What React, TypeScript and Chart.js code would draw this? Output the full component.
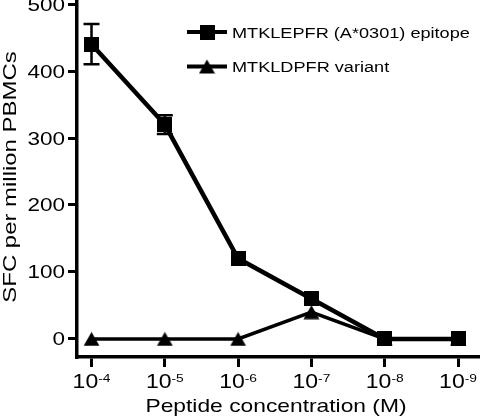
import { useEffect, useRef } from "react";
import { Chart, registerables } from "chart.js";

Chart.register(...registerables);

// Peptide concentrations (powers of ten, molar)
const exponents = ["-4", "-5", "-6", "-7", "-8", "-9"];
// Epitope response: mean and error
const epitopeSfc = [440, 320, 120, 60, 0, 0];
const epitopeErr = [30, 14, 0, 0, 0, 0];
// Variant response
const variantSfc = [0, 0, 0, 40, 0, 0];
const yTicks = [0, 100, 200, 300, 400, 500];
const seriesLabels = ["MTKLEPFR (A*0301) epitope", "MTKLDPFR variant"];
const xTitle = "Peptide concentration (M)";
const yTitle = "SFC per million PBMCs";

const FONT = '"Liberation Sans", Arial, Helvetica, sans-serif';

type Align = "left" | "center" | "right";

// Draws text horizontally widened by sx (along its own direction)
function wideText(
  ctx: CanvasRenderingContext2D,
  text: string,
  x: number,
  y: number,
  size: number,
  sx: number,
  align: Align,
  baseline: CanvasTextBaseline = "alphabetic",
  rotate = 0
) {
  ctx.save();
  ctx.font = `${size}px ${FONT}`;
  ctx.fillStyle = "#000";
  ctx.textBaseline = baseline;
  ctx.textAlign = "left";
  const w = ctx.measureText(text).width * sx;
  let off = 0;
  if (align === "center") off = -w / 2;
  else if (align === "right") off = -w;
  ctx.translate(x, y);
  if (rotate) ctx.rotate(rotate);
  ctx.translate(off, 0);
  ctx.scale(sx, 1);
  ctx.fillText(text, 0, 0);
  ctx.restore();
  return w;
}

function makeSquare(): HTMLCanvasElement {
  const c = document.createElement("canvas");
  c.width = 15;
  c.height = 15;
  const g = c.getContext("2d")!;
  g.fillStyle = "#000";
  g.fillRect(0, 0, 15, 15);
  return c;
}

function makeTriangle(): HTMLCanvasElement {
  const c = document.createElement("canvas");
  c.width = 17;
  c.height = 15;
  const g = c.getContext("2d")!;
  g.fillStyle = "#000";
  g.beginPath();
  g.moveTo(0.5, 14.5);
  g.lineTo(8.5, 0.5);
  g.lineTo(16.5, 14.5);
  g.closePath();
  g.fill();
  return c;
}

export default function App() {
  const ref = useRef<HTMLCanvasElement | null>(null);

  useEffect(() => {
    document.body.style.margin = "0";
    const canvas = ref.current;
    if (!canvas) return;
    const square = makeSquare();
    const triangle = makeTriangle();
    const markers = [square, triangle];

    const errorBars = {
      id: "errorBars",
      afterDatasetsDraw(chart: any) {
        const ctx = chart.ctx as CanvasRenderingContext2D;
        const xs = chart.scales.x;
        const ys = chart.scales.y;
        ctx.save();
        ctx.strokeStyle = "#000";
        ctx.lineWidth = 2.5;
        epitopeSfc.forEach((v, i) => {
          const e = epitopeErr[i];
          if (!e) return;
          const px = xs.getPixelForValue(i);
          const top = ys.getPixelForValue(v + e);
          const bot = ys.getPixelForValue(v - e);
          ctx.beginPath();
          ctx.moveTo(px, top);
          ctx.lineTo(px, bot);
          ctx.moveTo(px - 8, top);
          ctx.lineTo(px + 8, top);
          ctx.moveTo(px - 8, bot);
          ctx.lineTo(px + 8, bot);
          ctx.stroke();
        });
        ctx.restore();
      },
    };

    const textLayer = {
      id: "textLayer",
      afterDraw(chart: any) {
        const ctx = chart.ctx as CanvasRenderingContext2D;
        const xs = chart.scales.x;
        const ys = chart.scales.y;
        const area = chart.chartArea;

        // y tick labels
        yTicks.forEach((v) => {
          wideText(ctx, String(v), 65, ys.getPixelForValue(v) + 6.5, 18, 1.25, "right");
        });

        // x tick labels: 10 with superscript exponent
        exponents.forEach((ex, i) => {
          const px = xs.getPixelForValue(i);
          ctx.save();
          ctx.font = `20px ${FONT}`;
          const wBase = ctx.measureText("10").width * 1.15;
          ctx.font = `11.5px ${FONT}`;
          const wExp = ctx.measureText(ex).width * 1.2;
          ctx.restore();
          const left = px - (wBase + wExp) / 2;
          wideText(ctx, "10", left, 387.5, 20, 1.15, "left");
          wideText(ctx, ex, left + wBase, 381.5, 11.5, 1.2, "left");
        });

        // axis titles
        wideText(ctx, xTitle, (area.left + area.right) / 2 - 2, 411.5, 19, 1.2, "center");
        wideText(ctx, yTitle, 15.5, 177, 19, 1.26, "center", "alphabetic", -Math.PI / 2);

        // legend
        const rows = [32, 66.5];
        seriesLabels.forEach((label, i) => {
          const y = rows[i];
          ctx.save();
          ctx.strokeStyle = "#000";
          ctx.lineWidth = 4;
          ctx.beginPath();
          ctx.moveTo(187, y);
          ctx.lineTo(227, y);
          ctx.stroke();
          const m = markers[i];
          ctx.drawImage(m, 207 - m.width / 2, y - m.height / 2);
          ctx.restore();
          wideText(ctx, label, 232, y + 5.5, 15.5, 1.17, "left");
        });
      },
    };

    const chart = new Chart(canvas, {
      type: "line",
      data: {
        datasets: [
          {
            label: seriesLabels[0],
            data: epitopeSfc.map((y, i) => ({ x: i, y })),
            borderColor: "#000",
            backgroundColor: "#000",
            borderWidth: 4.5,
            pointStyle: square as any,
            pointRadius: 8,
            tension: 0,
          },
          {
            label: seriesLabels[1],
            data: variantSfc.map((y, i) => ({ x: i, y })),
            borderColor: "#000",
            backgroundColor: "#000",
            borderWidth: 3.5,
            pointStyle: triangle as any,
            pointRadius: 8,
            tension: 0,
          },
        ],
      },
      options: {
        animation: false,
        responsive: false,
        devicePixelRatio: 1,
        layout: { autoPadding: false, padding: { top: 1, right: 1, bottom: 0, left: 0 } },
        plugins: { legend: { display: false }, tooltip: { enabled: false } },
        events: [],
        scales: {
          x: {
            type: "linear",
            min: -0.198,
            max: 5.286,
            afterBuildTicks: (s: any) => {
              s.ticks = exponents.map((_, i) => ({ value: i }));
            },
            afterFit: (s: any) => {
              s.height = 61;
            },
            ticks: { display: false },
            grid: { drawOnChartArea: false, color: "#000", lineWidth: 3, tickLength: 10 },
            border: { color: "#000", width: 3.5 },
          },
          y: {
            type: "linear",
            min: -26.9,
            max: 504.5,
            afterBuildTicks: (s: any) => {
              s.ticks = yTicks.map((v) => ({ value: v }));
            },
            afterFit: (s: any) => {
              s.width = 77;
            },
            ticks: { display: false },
            grid: { drawOnChartArea: false, color: "#000", lineWidth: 3, tickLength: 9 },
            border: { color: "#000", width: 3.5 },
          },
        },
      },
      plugins: [errorBars, textLayer],
    });

    return () => chart.destroy();
  }, []);

  return (
    <div style={{ width: 480, height: 418 }}>
      <canvas ref={ref} width={480} height={418} />
    </div>
  );
}
